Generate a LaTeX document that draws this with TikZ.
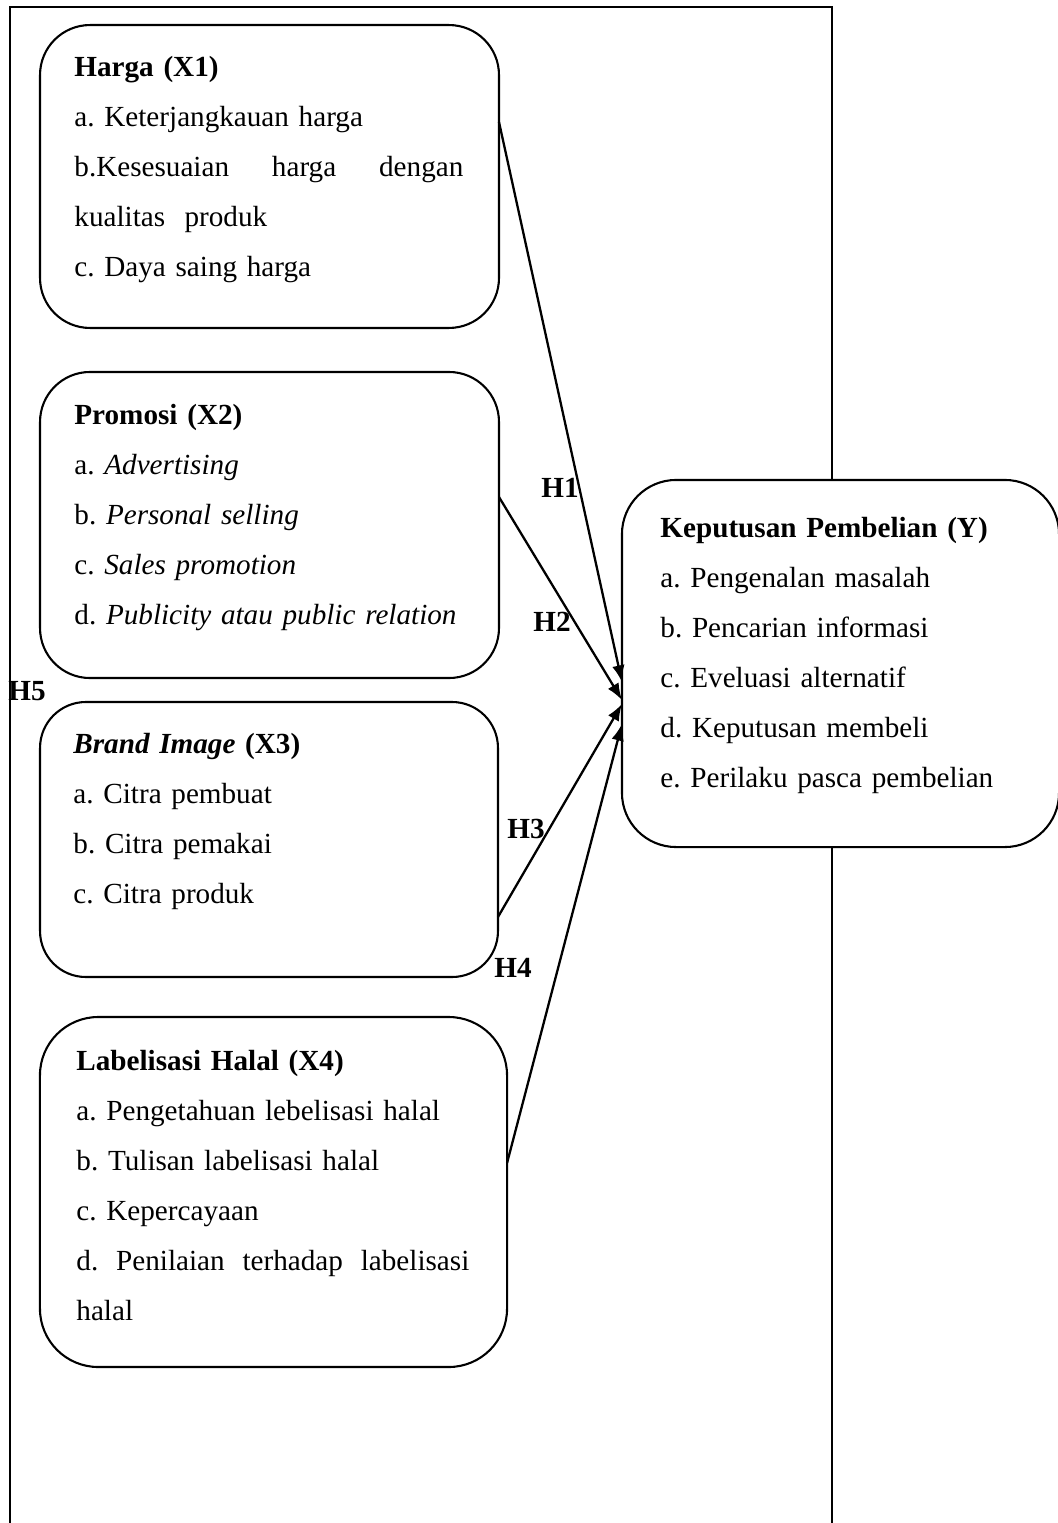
\documentclass[tikz,border=0pt]{standalone}
\usepackage{fontspec}
\setmainfont{Liberation Serif}
\usetikzlibrary{arrows.meta}
\frenchspacing

\begin{document}
\begin{tikzpicture}[x=0.48pt,y=-0.48pt,font=\fontsize{14}{24}\selectfont,
  box/.style={draw, line width=1pt, rounded corners=24pt, fill=white, inner sep=0pt, outer sep=0pt},
  txt/.style={anchor=base west, inner sep=0pt, align=left, text width=#1},
  txt/.default=210pt,
  hyp/.style={anchor=base west, inner sep=0pt, font=\fontsize{14}{24}\selectfont\bfseries},
  arr/.style={line width=1.1pt, -{Latex[length=8pt,width=6pt]}}]

  \useasboundingbox (0,0) rectangle (1057,1523);
  \draw[line width=0.7pt] (10,1523) -- (10,7) -- (832,7) -- (832,1523);

  \node[box, minimum width=220.3pt, minimum height=145.4pt] (x1) at (269.5,176.5) {};
  \node[box, minimum width=220.3pt, minimum height=146.9pt] (x2) at (269.5,525) {};
  \node[box, rounded corners=22pt, minimum width=219.8pt, minimum height=132pt] (x3) at (269,839.5) {};
  \node[box, rounded corners=28pt, minimum width=224.2pt, minimum height=168pt] (x4) at (273.5,1192) {};
  \node[box, rounded corners=26pt, minimum width=209.8pt, minimum height=176.2pt] (y) at (840.5,663.5) {};

  \node[txt=186.7pt] (x1 text) at (74,77) {\textbf{Harga (X1)}\\ a. Keterjangkauan harga\\
    \makebox[186.7pt]{b.Kesesuaian\hfill harga\hfill dengan}\\ kualitas\ \ produk\\ c. Daya saing harga};
  \node[txt] (x2 text) at (74,424) {\textbf{Promosi (X2)}\\ a. \textit{Advertising}\\ b. \textit{Personal selling}\\
    c. \textit{Sales promotion}\\ d. \textit{Publicity atau public relation}};
  \node[txt] (x3 text) at (73,753) {\textbf{\textit{Brand Image} (X3)}\\ a. Citra pembuat\\ b. Citra pemakai\\ c. Citra produk};
  \node[txt=188.6pt] (x4 text) at (76,1070) {\textbf{Labelisasi Halal (X4)}\\ a. Pengetahuan lebelisasi halal\\
    b. Tulisan labelisasi halal\\ c. Kepercayaan\\ \makebox[188.6pt]{d.\hfill Penilaian\hfill terhadap\hfill labelisasi}\\ halal};
  \node[txt] (y text) at (660,537) {\textbf{Keputusan Pembelian (Y)}\\ a. Pengenalan masalah\\ b. Pencarian informasi\\
    c. Eveluasi alternatif\\ d. Keputusan membeli\\ e. Perilaku pasca pembelian};

  \draw[arr] (x1.east |- 0,122) -- (y.west |- 0,682);
  \draw[arr] (x2.east |- 0,497) -- (y.west |- 0,700);
  \draw[arr] (x3.east |- 0,917) -- (y.west |- 0,704);
  \draw[arr] (x4.east |- 0,1163) -- (y.west |- 0,724);

  \node[hyp] (h1) at (541,497) {H1};
  \node[hyp] (h2) at (533,631) {H2};
  \node[hyp] (h3) at (507,838) {H3};
  \node[hyp] (h4) at (494,977) {H4};
  \node[hyp] (h5) at (8,700) {H5};

\end{tikzpicture}
\end{document}
